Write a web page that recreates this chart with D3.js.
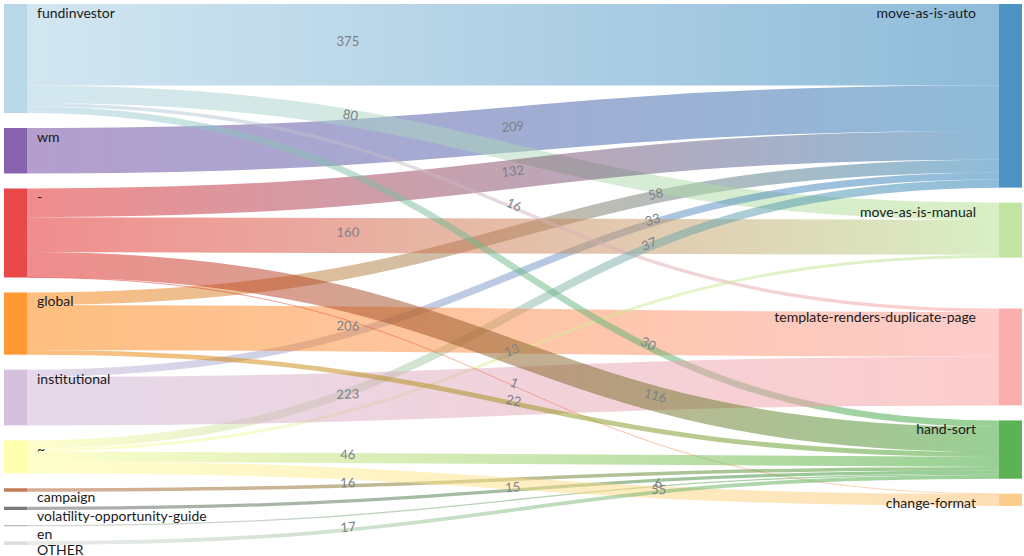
<!DOCTYPE html>
<html>
<head>
<meta charset="utf-8">
<script src="https://cdn.jsdelivr.net/npm/d3@7"></script>
<style>
  html, body { margin: 0; padding: 0; background: #fff; }
  svg { display: block; font-family: Lato, "Open Sans", sans-serif; }
</style>
</head>
<body>
<svg id="chart" width="1024" height="556"></svg>
<script>
// ---------------- DATA ----------------
const sourceNodes = ["fundinvestor", "wm", "-", "global", "institutional", "~", "campaign",
                     "volatility-opportunity-guide", "en", "OTHER"];
const targetNodes = ["move-as-is-auto", "move-as-is-manual", "template-renders-duplicate-page",
                     "hand-sort", "change-format"];

const linkSources = ["fundinvestor", "wm", "global", "fundinvestor", "-", "institutional", "-",
                     "fundinvestor", "~", "global", "~", "fundinvestor", "institutional", "-", "-",
                     "~", "global", "en", "campaign", "volatility-opportunity-guide", "~", "OTHER"];
const linkTargets = ["move-as-is-auto", "move-as-is-auto", "move-as-is-auto", "move-as-is-manual",
                     "move-as-is-auto", "move-as-is-auto", "move-as-is-manual",
                     "template-renders-duplicate-page", "move-as-is-auto",
                     "template-renders-duplicate-page", "move-as-is-manual", "hand-sort",
                     "template-renders-duplicate-page", "change-format", "hand-sort", "hand-sort",
                     "hand-sort", "hand-sort", "hand-sort", "hand-sort", "change-format", "hand-sort"];
const linkValues = [375, 209, 58, 80, 132, 33, 160, 16, 37, 206, 13, 30, 223, 1, 116, 46, 22, 6, 16, 15, 55, 17];

// colour assignment order (order of first appearance)
const colorOrder = ["fundinvestor", "move-as-is-auto", "move-as-is-manual", "hand-sort",
                    "template-renders-duplicate-page", "-", "change-format", "global", "institutional",
                    "wm", "~", "campaign", "volatility-opportunity-guide", "en", "OTHER"];

// ---------------- STYLE ----------------
const W = 1024, H = 556;
const extent = [[4, 4], [1022, 545]];
const nodeWidth = 23, nodePadding = 15, iterations = 6;
const labelOffsets = [0.33, 0.5, 0.65];
const color = d3.scaleOrdinal()
  .domain(colorOrder)
  .range(d3.schemePaired.concat(["#5a5a5a", "#a8a8a8", "#d6d6d6"]));

// ---------------- SANKEY LAYOUT (port of d3-sankey) ----------------
function sankey(nodeNames, linkData) {
  const [[x0, y0], [x1, y1]] = extent;
  const dx = nodeWidth;
  let py = nodePadding;
  const nodes = nodeNames.map((name, i) => ({name, index: i, sourceLinks: [], targetLinks: []}));
  const byName = new Map(nodes.map(n => [n.name, n]));
  const links = linkData.map((l, i) => ({index: i, source: byName.get(l.source), target: byName.get(l.target), value: l.value}));
  for (const l of links) { l.source.sourceLinks.push(l); l.target.targetLinks.push(l); }
  for (const n of nodes) n.value = Math.max(d3.sum(n.sourceLinks, l => l.value), d3.sum(n.targetLinks, l => l.value));

  // depths
  let current = new Set(nodes), next = new Set(), x = 0;
  while (current.size) {
    for (const n of current) { n.depth = x; for (const {target} of n.sourceLinks) next.add(target); }
    x++; current = next; next = new Set();
  }
  const nLayers = x;
  for (const n of nodes) n.layer = n.sourceLinks.length ? n.depth : nLayers - 1;
  const kx = (x1 - x0 - dx) / (nLayers - 1);
  const columns = new Array(nLayers).fill(0).map(() => []);
  for (const n of nodes) {
    n.x0 = x0 + n.layer * kx; n.x1 = n.x0 + dx;
    columns[n.layer].push(n);
  }

  const ascSrc = (a, b) => (a.source.y0 - b.source.y0) || (a.index - b.index);
  const ascTgt = (a, b) => (a.target.y0 - b.target.y0) || (a.index - b.index);
  function reorderLinks(ns) { for (const n of ns) { n.sourceLinks.sort(ascTgt); n.targetLinks.sort(ascSrc); } }
  function reorderNodeLinks(n) {
    for (const {source} of n.targetLinks) source.sourceLinks.sort(ascTgt);
    for (const {target} of n.sourceLinks) target.targetLinks.sort(ascSrc);
  }

  py = Math.min(nodePadding, (y1 - y0) / (d3.max(columns, c => c.length) - 1));
  const ky = d3.min(columns, c => (y1 - y0 - (c.length - 1) * py) / d3.sum(c, n => n.value));
  for (const col of columns) {
    let y = y0;
    for (const n of col) {
      n.y0 = y; n.y1 = y + n.value * ky; y = n.y1 + py;
      for (const l of n.sourceLinks) l.width = l.value * ky;
    }
    y = (y1 - y + py) / (col.length + 1);
    col.forEach((n, i) => { n.y0 += y * (i + 1); n.y1 += y * (i + 1); });
    reorderLinks(col);
  }

  // target.y0 that would give an ideal link from source to target
  function targetTop(source, target) {
    let y = source.y0 - (source.sourceLinks.length - 1) * py / 2;
    for (const {target: n, width} of source.sourceLinks) { if (n === target) break; y += width + py; }
    for (const {source: n, width} of target.targetLinks) { if (n === source) break; y -= width; }
    return y;
  }
  // source.y0 that would give an ideal link from source to target
  function sourceTop(source, target) {
    let y = target.y0 - (target.targetLinks.length - 1) * py / 2;
    for (const {source: n, width} of target.targetLinks) { if (n === source) break; y += width + py; }
    for (const {target: n, width} of source.sourceLinks) { if (n === target) break; y -= width; }
    return y;
  }
  function topToBottom(ns, y, i, a) {
    for (; i < ns.length; ++i) { const n = ns[i]; const d = (y - n.y0) * a; if (d > 1e-6) { n.y0 += d; n.y1 += d; } y = n.y1 + py; }
  }
  function bottomToTop(ns, y, i, a) {
    for (; i >= 0; --i) { const n = ns[i]; const d = (n.y1 - y) * a; if (d > 1e-6) { n.y0 -= d; n.y1 -= d; } y = n.y0 - py; }
  }
  function resolveCollisions(ns, a) {
    const i = ns.length >> 1, s = ns[i];
    bottomToTop(ns, s.y0 - py, i - 1, a);
    topToBottom(ns, s.y1 + py, i + 1, a);
    bottomToTop(ns, y1, ns.length - 1, a);
    topToBottom(ns, y0, 0, a);
  }
  function relaxLeftToRight(alpha, beta) {
    for (let i = 1; i < columns.length; ++i) {
      const col = columns[i];
      for (const t of col) {
        let y = 0, w = 0;
        for (const {source, value} of t.targetLinks) { const v = value * (t.layer - source.layer); y += targetTop(source, t) * v; w += v; }
        if (!(w > 0)) continue;
        const d = (y / w - t.y0) * alpha; t.y0 += d; t.y1 += d; reorderNodeLinks(t);
      }
      resolveCollisions(col, beta);
    }
  }
  function relaxRightToLeft(alpha, beta) {
    for (let i = columns.length - 2; i >= 0; --i) {
      const col = columns[i];
      for (const s of col) {
        let y = 0, w = 0;
        for (const {target, value} of s.sourceLinks) { const v = value * (target.layer - s.layer); y += sourceTop(s, target) * v; w += v; }
        if (!(w > 0)) continue;
        const d = (y / w - s.y0) * alpha; s.y0 += d; s.y1 += d; reorderNodeLinks(s);
      }
      resolveCollisions(col, beta);
    }
  }
  for (let i = 0; i < iterations; ++i) {
    const alpha = Math.pow(0.99, i);
    const beta = Math.max(1 - alpha, (i + 1) / iterations);
    relaxRightToLeft(alpha, beta);
    relaxLeftToRight(alpha, beta);
  }
  reorderLinks(nodes);
  for (const n of nodes) {
    let a = n.y0, b = n.y0;
    for (const l of n.sourceLinks) { l.y0 = a + l.width / 2; a += l.width; }
    for (const l of n.targetLinks) { l.y1 = b + l.width / 2; b += l.width; }
  }
  return {nodes, links};
}

const graph = sankey(sourceNodes.concat(targetNodes),
  linkValues.map((v, i) => ({source: linkSources[i], target: linkTargets[i], value: v})));

// ---------------- DRAW ----------------
const svg = d3.select("#chart");
const defs = svg.append("defs");
const linkPath = d3.linkHorizontal()
  .source(d => [d.source.x1, d.y0])
  .target(d => [d.target.x0, d.y1]);

graph.links.forEach((d, i) => {
  const g = defs.append("linearGradient")
    .attr("id", "grad-" + i)
    .attr("gradientUnits", "userSpaceOnUse")
    .attr("x1", d.source.x1).attr("x2", d.target.x0)
    .attr("y1", 0).attr("y2", 0);
  g.append("stop").attr("offset", "0%").attr("stop-color", color(d.source.name));
  g.append("stop").attr("offset", "100%").attr("stop-color", color(d.target.name));
});

svg.append("g")
  .selectAll("path")
  .data(graph.links)
  .join("path")
  .attr("id", (d, i) => "link-" + i)
  .attr("d", linkPath)
  .attr("fill", "none")
  .attr("stroke", (d, i) => `url(#grad-${i})`)
  .attr("stroke-opacity", 0.5)
  .attr("stroke-width", d => Math.max(1, d.width));

svg.append("g")
  .selectAll("rect")
  .data(graph.nodes)
  .join("rect")
  .attr("x", d => d.x0)
  .attr("y", d => d.y0)
  .attr("width", d => d.x1 - d.x0)
  .attr("height", d => Math.max(1, d.y1 - d.y0))
  .attr("fill", d => color(d.name))
  .attr("fill-opacity", 0.8);

// link value labels
svg.append("g")
  .selectAll("text")
  .data(graph.links)
  .join("text")
  .attr("dy", "0.12em")
  .attr("font-size", 13)
  .attr("fill", "#7c8088")
  .append("textPath")
  .attr("href", (d, i) => "#link-" + i)
  .attr("startOffset", (d, i) => (labelOffsets[i % 3] * 100) + "%")
  .attr("text-anchor", "middle")
  .text(d => d.value);

// node labels
svg.append("g")
  .selectAll("text")
  .data(graph.nodes)
  .join("text")
  .attr("x", d => d.layer === 0 ? d.x1 + 10 : d.x0 - 23)
  .attr("y", d => d.y0 + 9)
  .attr("dy", "0.35em")
  .attr("text-anchor", d => d.layer === 0 ? "start" : "end")
  .attr("font-size", 14)
  .attr("fill", "#1a1a1a")
  .text(d => d.name);
</script>
</body>
</html>
